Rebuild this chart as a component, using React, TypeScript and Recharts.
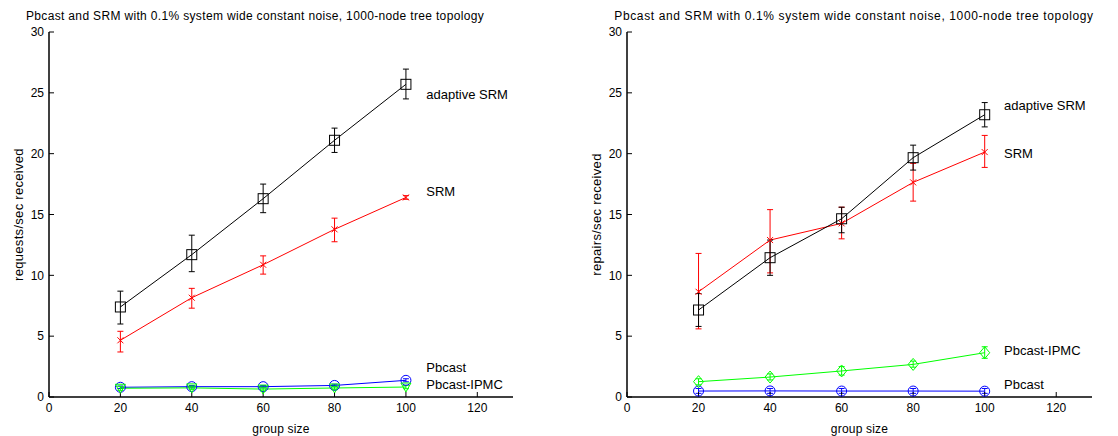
import React from 'react';
import { LineChart, Line, XAxis, YAxis, ErrorBar, ReferenceDot, Label } from 'recharts';

const groupSizes = [20, 40, 60, 80, 100];
const xTicks = [0, 20, 40, 60, 80, 100, 120];
const yTicks = [0, 5, 10, 15, 20, 25, 30];

const titleText = 'Pbcast and SRM with 0.1% system wide constant noise, 1000-node tree topology';

// Left chart: requests/sec received
const leftAsrm = [7.4, 11.7, 16.3, 21.1, 25.7];
const leftAsrmLo = [6.0, 10.3, 15.15, 20.1, 24.5];
const leftAsrmHi = [8.7, 13.3, 17.5, 22.1, 26.95];
const leftSrm = [4.66, 8.16, 10.87, 13.78, 16.4];
const leftSrmLo = [3.7, 7.3, 10.1, 12.76, 16.25];
const leftSrmHi = [5.4, 8.93, 11.6, 14.7, 16.55];
const leftPb = [0.8, 0.85, 0.85, 0.95, 1.37];
const leftPbLo = [0.7, 0.75, 0.75, 0.85, 1.25];
const leftPbHi = [0.9, 0.95, 0.95, 1.05, 1.5];
const leftIpmc = [0.72, 0.75, 0.65, 0.74, 0.82];
const leftIpmcLo = [0.55, 0.6, 0.5, 0.6, 0.68];
const leftIpmcHi = [0.88, 0.9, 0.8, 0.88, 0.96];

// Right chart: repairs/sec received
const rightAsrm = [7.15, 11.45, 14.65, 19.67, 23.2];
const rightAsrmLo = [5.8, 10.0, 13.5, 18.65, 22.2];
const rightAsrmHi = [8.5, 12.9, 15.6, 20.7, 24.2];
const rightSrm = [8.65, 12.9, 14.27, 17.64, 20.13];
const rightSrmLo = [5.6, 10.2, 13.0, 16.1, 18.87];
const rightSrmHi = [11.8, 15.4, 15.6, 19.2, 21.5];
const rightIpmc = [1.26, 1.64, 2.14, 2.68, 3.64];
const rightIpmcLo = [1.0, 1.4, 1.8, 2.45, 3.18];
const rightIpmcHi = [1.5, 1.9, 2.5, 2.95, 4.13];
const rightPb = [0.49, 0.5, 0.49, 0.49, 0.48];
const rightPbLo = [0.3, 0.3, 0.3, 0.3, 0.3];
const rightPbHi = [0.7, 0.7, 0.7, 0.7, 0.7];

const leftNotes = [
  { text: 'adaptive SRM', x: 105.7, y: 24.9 },
  { text: 'SRM', x: 105.7, y: 16.9 },
  { text: 'Pbcast', x: 105.7, y: 2.47 },
  { text: 'Pbcast-IPMC', x: 105.7, y: 1.0 },
];
const rightNotes = [
  { text: 'adaptive SRM', x: 105.4, y: 24.0 },
  { text: 'SRM', x: 105.4, y: 20.0 },
  { text: 'Pbcast-IPMC', x: 105.4, y: 3.86 },
  { text: 'Pbcast', x: 105.4, y: 1.0 },
];

const FONT = '"Liberation Sans", Arial, Helvetica, sans-serif';

function build(asrm, asrmLo, asrmHi, srm, srmLo, srmHi, pb, pbLo, pbHi, ipmc, ipmcLo, ipmcHi) {
  return groupSizes.map((x, i) => ({
    x,
    asrm: asrm[i],
    asrmErr: [asrm[i] - asrmLo[i], asrmHi[i] - asrm[i]],
    srm: srm[i],
    srmErr: [srm[i] - srmLo[i], srmHi[i] - srm[i]],
    pb: pb[i],
    pbErr: [pb[i] - pbLo[i], pbHi[i] - pb[i]],
    ipmc: ipmc[i],
    ipmcErr: [ipmc[i] - ipmcLo[i], ipmcHi[i] - ipmc[i]],
  }));
}

const leftData = build(leftAsrm, leftAsrmLo, leftAsrmHi, leftSrm, leftSrmLo, leftSrmHi, leftPb, leftPbLo, leftPbHi, leftIpmc, leftIpmcLo, leftIpmcHi);
const rightData = build(rightAsrm, rightAsrmLo, rightAsrmHi, rightSrm, rightSrmLo, rightSrmHi, rightPb, rightPbLo, rightPbHi, rightIpmc, rightIpmcLo, rightIpmcHi);

const SquareDot = (p) => {
  const { cx, cy, index } = p;
  if (cx == null || cy == null) return <g key={index} />;
  return <rect key={index} x={cx - 5} y={cy - 5} width={10} height={10} fill="none" stroke="#000" strokeWidth={1} />;
};
const XDot = (p) => {
  const { cx, cy, index } = p;
  if (cx == null || cy == null) return <g key={index} />;
  return (
    <g key={index} stroke="#ff0000" strokeWidth={1}>
      <line x1={cx - 3} y1={cy - 3} x2={cx + 3} y2={cy + 3} />
      <line x1={cx - 3} y1={cy + 3} x2={cx + 3} y2={cy - 3} />
    </g>
  );
};
const CircleDot = (p) => {
  const { cx, cy, index } = p;
  if (cx == null || cy == null) return <g key={index} />;
  return <circle key={index} cx={cx} cy={cy} r={5} fill="none" stroke="#0000ff" strokeWidth={1} />;
};
const TriDownDot = (p) => {
  const { cx, cy, index } = p;
  if (cx == null || cy == null) return <g key={index} />;
  return <polygon key={index} points={`${cx - 5},${cy - 4} ${cx + 5},${cy - 4} ${cx},${cy + 5}`} fill="none" stroke="#00ff00" strokeWidth={1} />;
};
const DiamondDot = (p) => {
  const { cx, cy, index } = p;
  if (cx == null || cy == null) return <g key={index} />;
  return <polygon key={index} points={`${cx},${cy - 6} ${cx + 5},${cy} ${cx},${cy + 6} ${cx - 5},${cy}`} fill="none" stroke="#00ff00" strokeWidth={1} />;
};

const tickStyle = { fill: '#000', fontSize: 12, fontFamily: FONT };

function Panel({ data, notes, yLabel, width, plotLeft, plotRight, greenDot, yLabelOffset }) {
  return (
    <LineChart
      width={width}
      height={436}
      data={data}
      margin={{ top: 32, right: width - plotRight, bottom: 0, left: 0 }}
      style={{ fontFamily: FONT }}
    >
      <XAxis
        dataKey="x"
        type="number"
        domain={[0, 130]}
        ticks={xTicks}
        allowDataOverflow
        height={39}
        stroke="#000"
        strokeWidth={1.5}
        tickSize={-5}
        tickMargin={11}
        tick={tickStyle}
        tickLine={{ stroke: '#000', strokeWidth: 1 }}
      >
        <Label value="group size" position="insideBottom" offset={3} style={{ fill: '#000', fontSize: 12, fontFamily: FONT, letterSpacing: 0.2 }} />
      </XAxis>
      <XAxis
        xAxisId="top"
        dataKey="x"
        type="number"
        orientation="top"
        domain={[0, 130]}
        ticks={xTicks}
        allowDataOverflow
        height={0}
        stroke="#000"
        strokeWidth={1}
        tickSize={-5}
        tick={false}
        tickLine={{ stroke: '#000', strokeWidth: 1 }}
      />
      <YAxis
        type="number"
        domain={[0, 30]}
        ticks={yTicks}
        allowDataOverflow
        width={plotLeft}
        stroke="#000"
        strokeWidth={1.5}
        tickSize={-5}
        tickMargin={10}
        tick={tickStyle}
        tickLine={{ stroke: '#000', strokeWidth: 1 }}
      >
        <Label
          value={yLabel}
          angle={-90}
          position="insideLeft"
          offset={yLabelOffset}
          style={{ fill: '#000', fontSize: 13, fontFamily: FONT, textAnchor: 'middle', letterSpacing: 0.3 }}
        />
      </YAxis>
      <YAxis
        yAxisId="right"
        type="number"
        orientation="right"
        domain={[0, 30]}
        ticks={yTicks}
        allowDataOverflow
        width={0}
        stroke="#000"
        strokeWidth={1.5}
        tickSize={-5}
        tick={false}
        tickLine={{ stroke: '#000', strokeWidth: 1 }}
      />
      <Line dataKey="pb" stroke="#0000ff" strokeWidth={1} dot={CircleDot} isAnimationActive={false}>
        <ErrorBar dataKey="pbErr" direction="y" width={3} stroke="#0000ff" strokeWidth={1} />
      </Line>
      <Line dataKey="ipmc" stroke="#00ff00" strokeWidth={1} dot={greenDot} isAnimationActive={false}>
        <ErrorBar dataKey="ipmcErr" direction="y" width={3} stroke="#00ff00" strokeWidth={1} />
      </Line>
      <Line dataKey="srm" stroke="#ff0000" strokeWidth={1} dot={XDot} isAnimationActive={false}>
        <ErrorBar dataKey="srmErr" direction="y" width={3} stroke="#ff0000" strokeWidth={1} />
      </Line>
      <Line dataKey="asrm" stroke="#000" strokeWidth={1} dot={SquareDot} isAnimationActive={false}>
        <ErrorBar dataKey="asrmErr" direction="y" width={3} stroke="#000" strokeWidth={1} />
      </Line>
      {notes.map((n) => (
        <ReferenceDot
          key={n.text}
          x={n.x}
          y={n.y}
          r={0}
          fill="none"
          stroke="none"
          label={{ value: n.text, position: 'right', offset: 0, fill: '#000', fontSize: 13, fontFamily: FONT }}
        />
      ))}
    </LineChart>
  );
}

export default function App() {
  const titleStyle = {
    position: 'absolute',
    top: 9,
    fontFamily: FONT,
    fontSize: 12,
    color: '#000',
    whiteSpace: 'nowrap',
    transform: 'translateX(-50%)',
    lineHeight: '14px',
  };
  return (
    <div style={{ position: 'absolute', left: 0, top: 0, width: 1118, height: 436, background: '#fff' }}>
      <div style={{ ...titleStyle, left: 255, letterSpacing: 0.34 }}>{titleText}</div>
      <div style={{ ...titleStyle, left: 854, letterSpacing: 0.62 }}>{titleText}</div>
      <div style={{ position: 'absolute', left: 0, top: 0 }}>
        <Panel data={leftData} notes={leftNotes} yLabel="requests/sec received" width={560} plotLeft={49} plotRight={513} greenDot={TriDownDot} yLabelOffset={18} />
      </div>
      <div style={{ position: 'absolute', left: 560, top: 0 }}>
        <Panel data={rightData} notes={rightNotes} yLabel="repairs/sec received" width={558} plotLeft={67} plotRight={532} greenDot={DiamondDot} yLabelOffset={36} />
      </div>
    </div>
  );
}
